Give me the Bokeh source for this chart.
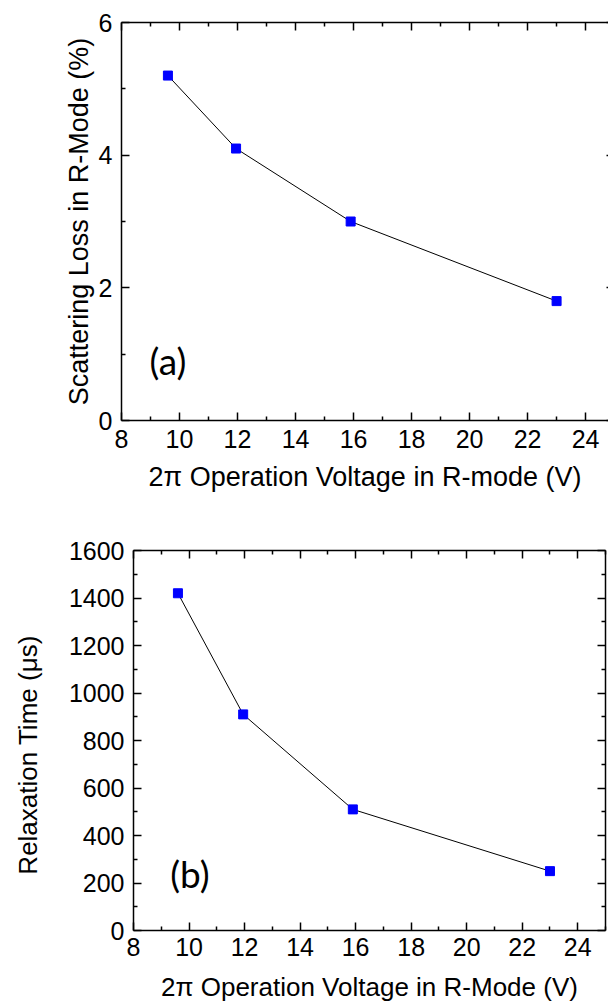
from bokeh.plotting import figure
from bokeh.models import LinearAxis, FixedTicker, Range1d, Label, CustomJSTickFormatter
from bokeh.embed import file_html
from bokeh.resources import INLINE

# ---- data ----
voltage_a = [9.6, 11.95, 15.9, 23.0]
loss_a = [5.2, 4.1, 3.0, 1.8]
voltage_b = [9.6, 11.95, 15.9, 23.0]
relax_b = [1420, 910, 510, 250]

x_ticks = [8, 10, 12, 14, 16, 18, 20, 22, 24]
x_minor = [9, 11, 13, 15, 17, 19, 21, 23, 25]
ya_ticks = [0, 2, 4, 6]
ya_minor = [1, 3, 5]
yb_ticks = [0, 200, 400, 600, 800, 1000, 1200, 1400, 1600]
yb_minor = [100, 300, 500, 700, 900, 1100, 1300, 1500]

xlabel_a = "2\u03c0 Operation Voltage in R-mode (V)"
xlabel_b = "2\u03c0 Operation Voltage in R-Mode (V)"
ylabel_a = "Scattering Loss in R-Mode (%)"
ylabel_b = "Relaxation Time (\u03bcs)"

FONT = "Liberation Sans"


def style_axis(ax, labels=True, tick_size="25px", label_size="27px"):
    ax.axis_line_width = 1.5
    ax.axis_line_color = "black"
    ax.major_tick_line_width = 1.5
    ax.minor_tick_line_width = 1.5
    ax.major_tick_line_color = "black"
    ax.minor_tick_line_color = "black"
    ax.major_tick_in = 8
    ax.major_tick_out = 0
    ax.minor_tick_in = 4
    ax.minor_tick_out = 0
    ax.major_label_text_font = FONT
    ax.major_label_text_font_size = tick_size
    ax.major_label_text_color = "black"
    ax.axis_label_text_font = FONT
    ax.axis_label_text_font_style = "normal"
    ax.axis_label_text_font_size = label_size
    ax.axis_label_text_color = "black"
    ax.major_label_standoff = 9
    if not labels:
        ax.formatter = CustomJSTickFormatter(code="return ''")
        ax.major_label_text_font_size = "0px"
        ax.major_label_standoff = 0


def make_fig(xr, yr, fw, fh, bl, br, bt, bb):
    p = figure(x_range=xr, y_range=yr, frame_width=fw, frame_height=fh,
               min_border_left=bl, min_border_right=br, min_border_top=bt,
               min_border_bottom=bb, output_backend="svg", toolbar_location=None,
               background_fill_color="white", border_fill_color="white")
    p.outline_line_color = None
    p.xgrid.visible = False
    p.ygrid.visible = False
    return p


# ---- panel (a) ----
p1 = make_fig(Range1d(8, 24.79), Range1d(0, 6), 487, 398, 121, 0, 22, 105)
p1.xaxis.ticker = FixedTicker(ticks=x_ticks, minor_ticks=x_minor)
p1.yaxis.ticker = FixedTicker(ticks=ya_ticks, minor_ticks=ya_minor)
p1.xaxis.axis_label = xlabel_a
p1.yaxis.axis_label = ylabel_a
for ax in p1.xaxis + p1.yaxis:
    style_axis(ax)
p1.xaxis.axis_label_standoff = 11
p1.yaxis.axis_label_standoff = 2
top1 = LinearAxis(ticker=FixedTicker(ticks=x_ticks, minor_ticks=x_minor))
style_axis(top1, labels=False)
p1.add_layout(top1, "above")
# right spine lies just outside the picture: only the tips of its major ticks show
right1 = LinearAxis(ticker=FixedTicker(ticks=ya_ticks, minor_ticks=ya_minor))
style_axis(right1, labels=False)
right1.axis_line_color = None
right1.major_tick_in = 2
right1.minor_tick_in = 0
p1.add_layout(right1, "right")

p1.line(voltage_a, loss_a, line_color="black", line_width=1)
p1.scatter(voltage_a, loss_a, marker="square", size=9,
           fill_color="#0000FF", line_color="#0000FF")
p1.add_layout(Label(x=9.6, y=0.9, text="(a)", text_font="Lato",
                    text_font_size="37px", text_align="center",
                    text_baseline="middle", text_color="black"))

# ---- panel (b) ----
p2 = make_fig(Range1d(8, 25), Range1d(0, 1600), 472, 380, 133, 3, 25, 72)
p2.xaxis.ticker = FixedTicker(ticks=x_ticks, minor_ticks=x_minor)
p2.yaxis.ticker = FixedTicker(ticks=yb_ticks, minor_ticks=yb_minor)
p2.xaxis.axis_label = xlabel_b
# trailing no-break spaces move the centred title a little downwards
p2.yaxis.axis_label = ylabel_b + "\u00a0\u00a0\u00a0\u00a0"
for ax in p2.xaxis + p2.yaxis:
    style_axis(ax, label_size="26px")
p2.xaxis.major_label_standoff = 7
p2.xaxis.axis_label_standoff = 13
p2.yaxis.axis_label_standoff = 23
top2 = LinearAxis(ticker=FixedTicker(ticks=x_ticks, minor_ticks=x_minor))
style_axis(top2, labels=False)
p2.add_layout(top2, "above")
right2 = LinearAxis(ticker=FixedTicker(ticks=yb_ticks, minor_ticks=yb_minor))
style_axis(right2, labels=False)
p2.add_layout(right2, "right")

p2.line(voltage_b, relax_b, line_color="black", line_width=1)
p2.scatter(voltage_b, relax_b, marker="square", size=9,
           fill_color="#0000FF", line_color="#0000FF")
p2.add_layout(Label(x=10.03, y=240, text="(b)", text_font="Lato",
                    text_font_size="37px", text_align="center",
                    text_baseline="middle", text_color="black"))

open("out.html", "w").write(file_html([p1, p2], INLINE))
